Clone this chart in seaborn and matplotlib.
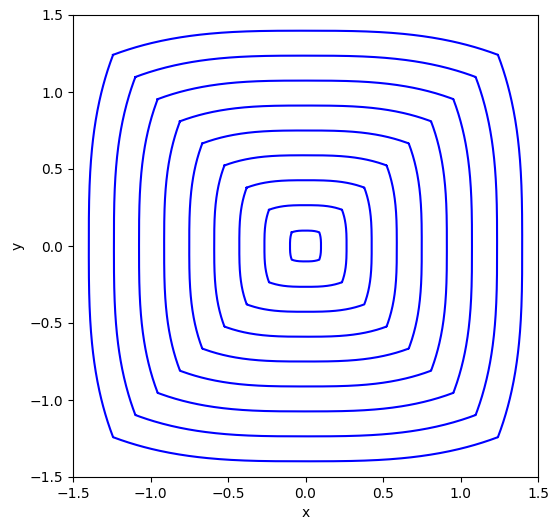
import numpy as np
import pandas as pd
import matplotlib
matplotlib.use("Agg")
import matplotlib.pyplot as plt
import seaborn as sns

# Half-sizes of the nested rings
ring_sizes = [0.10, 0.265, 0.427, 0.589, 0.750, 0.912, 1.074, 1.236, 1.398]
# How far each edge bends in at its ends (edge: y = r*(1 - bulge*|u|^3))
edge_bulge = 0.16
x_ticks = [-1.5, -1.0, -0.5, 0.0, 0.5, 1.0, 1.5]
y_ticks = [-1.5, -1.0, -0.5, 0.0, 0.5, 1.0, 1.5]

# corner parameter: u = 1 - bulge*u^3
roots = np.roots([edge_bulge, 0, 1, -1])
u_c = float(np.real(roots[np.isclose(np.imag(roots), 0)][0]))
u = np.linspace(-u_c, u_c, 200)
g = 1 - edge_bulge * np.abs(u) ** 3

fig = plt.figure(figsize=(5.57, 5.30), dpi=100)
ax = fig.add_axes([73 / 557, 53 / 530, 465 / 557, 462 / 530])

for k, r in enumerate(ring_sizes):
    xs = np.concatenate([r * u, r * g, -r * u, -r * g, [r * u[0]]])
    ys = np.concatenate([r * g, -r * u, -r * g, r * u, [r * g[0]]])
    df = pd.DataFrame({"x": xs, "y": ys, "ring": k})
    sns.lineplot(data=df, x="x", y="y", sort=False, estimator=None,
                 color="blue", linewidth=1.5, ax=ax)

ax.set_xlim(-1.5, 1.5)
ax.set_ylim(-1.5, 1.5)
ax.set_xticks(x_ticks)
ax.set_yticks(y_ticks)
ax.set_xlabel("x")
ax.set_ylabel("y")
fig.savefig("out.png", dpi=100)
